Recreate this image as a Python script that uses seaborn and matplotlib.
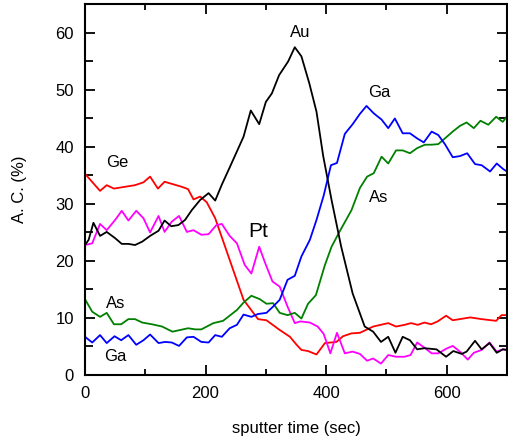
import seaborn as sns
import matplotlib.pyplot as plt
from matplotlib.ticker import MultipleLocator
import pandas as pd

# sputter time (sec) and atomic concentration (%)
ge_t = [0, 25, 36, 48, 83, 97, 108, 121, 132, 161, 171, 180, 191, 202, 216, 263, 287, 301,
        323, 340, 351, 359, 370, 384, 398, 417, 428, 442, 456, 478, 503, 516, 530, 541, 552,
        563, 574, 585, 599, 610, 639, 658, 682, 691, 700]
ge_v = [35.3, 32.3, 33.3, 32.7, 33.3, 33.8, 34.8, 32.7, 33.9, 33.0, 32.6, 30.8, 31.3, 30.3,
        27.5, 13.2, 9.8, 9.6, 7.9, 6.7, 5.3, 4.4, 4.2, 3.6, 5.6, 5.8, 6.8, 7.3, 7.4, 8.5, 9.1,
        8.5, 8.8, 9.1, 8.8, 9.2, 8.9, 9.4, 10.4, 9.6, 10.1, 9.8, 9.5, 10.5, 10.5]

au_t = [0, 6, 14, 25, 36, 50, 61, 72, 83, 95, 108, 122, 132, 143, 155, 166, 177, 191, 205,
        216, 227, 240, 263, 275, 289, 300, 310, 322, 337, 348, 359, 372, 384, 395, 409, 425,
        444, 464, 478, 491, 503, 515, 527, 539, 551, 563, 583, 599, 611, 625, 633, 647, 658,
        671, 683, 693, 700]
au_v = [22.8, 23.7, 26.7, 24.4, 25.1, 24.0, 23.0, 23.0, 22.8, 23.4, 24.4, 25.3, 27.1, 26.1,
        26.3, 27.2, 28.9, 30.7, 31.9, 30.6, 33.4, 36.4, 41.8, 46.4, 44.0, 47.9, 49.4, 52.6,
        55.0, 57.5, 55.9, 51.2, 46.2, 38.5, 30.7, 22.5, 14.3, 8.5, 7.6, 5.8, 6.7, 3.9, 6.7,
        6.1, 4.5, 4.7, 4.5, 3.2, 4.2, 3.7, 4.1, 6.0, 4.5, 5.6, 3.9, 4.5, 4.4]

pt_t = [0, 12, 25, 36, 50, 61, 72, 85, 97, 108, 122, 132, 144, 156, 169, 180, 193, 205, 218,
        227, 240, 252, 265, 276, 289, 299, 311, 323, 336, 348, 357, 373, 386, 396, 407, 418,
        431, 444, 456, 468, 478, 491, 503, 516, 530, 540, 551, 563, 575, 586, 599, 610, 622,
        635, 645, 658, 671, 683, 693, 700]
pt_v = [22.8, 23.1, 26.5, 25.4, 27.2, 28.8, 27.1, 28.8, 27.5, 25.0, 27.9, 25.1, 26.9, 27.9,
        25.1, 25.4, 24.6, 24.7, 26.3, 26.5, 24.4, 23.1, 19.3, 17.8, 22.5, 19.6, 16.4, 15.5,
        12.0, 9.1, 9.4, 9.2, 8.5, 7.2, 3.8, 7.4, 3.8, 4.1, 3.7, 2.5, 2.9, 2.0, 3.5, 3.2, 3.2,
        3.5, 5.7, 4.8, 3.8, 3.8, 4.6, 5.1, 4.1, 2.7, 3.9, 4.4, 5.7, 4.1, 4.5, 4.4]

as_t = [0, 12, 25, 36, 48, 60, 72, 83, 95, 111, 128, 145, 158, 171, 183, 193, 213, 229, 252,
        263, 276, 290, 301, 312, 323, 336, 348, 359, 370, 383, 398, 409, 422, 442, 456, 468,
        479, 492, 503, 516, 527, 539, 551, 564, 575, 586, 597, 610, 622, 633, 645, 656, 669,
        682, 693, 700]
as_v = [13.3, 11.1, 10.2, 10.9, 8.9, 8.9, 9.8, 9.8, 9.2, 8.9, 8.5, 7.6, 7.9, 8.2, 8.0, 8.0,
        9.1, 9.5, 11.4, 12.7, 13.9, 13.3, 12.5, 12.6, 10.9, 10.5, 10.9, 9.9, 12.5, 14.0, 19.3,
        22.5, 25.1, 28.9, 32.8, 34.8, 35.4, 38.3, 37.1, 39.4, 39.4, 38.9, 39.8, 40.4, 40.4,
        40.5, 41.5, 42.7, 43.7, 44.3, 43.3, 44.6, 43.9, 45.3, 44.4, 45.4]

ga_t = [0, 12, 25, 36, 49, 60, 72, 85, 97, 108, 122, 133, 144, 156, 169, 180, 193, 205, 216,
        227, 240, 252, 263, 276, 287, 301, 312, 323, 336, 348, 359, 373, 384, 396, 408, 418,
        431, 444, 456, 467, 479, 492, 503, 514, 527, 539, 551, 562, 575, 586, 597, 610, 622,
        634, 647, 658, 672, 683, 694, 700]
ga_v = [6.7, 5.7, 7.0, 5.6, 6.8, 6.1, 7.0, 5.3, 6.1, 7.1, 5.6, 5.8, 5.7, 5.1, 6.6, 6.7, 5.8,
        5.7, 7.0, 6.7, 8.2, 8.8, 10.6, 10.2, 10.7, 10.9, 12.0, 13.2, 16.7, 17.4, 20.8, 23.7,
        27.2, 31.5, 36.8, 37.2, 42.3, 44.0, 45.8, 47.2, 45.9, 44.8, 43.3, 45.0, 42.4, 42.4,
        41.5, 40.8, 42.7, 42.1, 40.5, 38.2, 38.4, 38.9, 37.0, 36.8, 35.7, 37.1, 36.1, 35.7]

# label text and where it sits (data coords)
labels = ["Au", "Ga", "Ge", "As", "Pt", "As", "Ga"]
label_x = [357, 489, 53, 487, 288, 51, 51]
label_y = [60.0, 49.6, 37.2, 31.2, 25.1, 12.6, 3.3]

sns.set_style("ticks")
plt.rcParams['font.family'] = ['Liberation Sans', 'DejaVu Sans']
plt.rcParams.update({"text.color": "black", "axes.labelcolor": "black",
                     "xtick.color": "black", "ytick.color": "black",
                     "axes.edgecolor": "black"})

fig = plt.figure(figsize=(5.08, 4.46), dpi=100)
ax = fig.add_axes([0.1673, 0.1592, 0.8307, 0.8308])

series = [(ge_t, ge_v, "#ff0000"), (pt_t, pt_v, "#ff00ff"), (as_t, as_v, "#008000"),
          (ga_t, ga_v, "#0000ff"), (au_t, au_v, "#000000")]
for t, v, c in series:
    df = pd.DataFrame({"t": t, "v": v})
    sns.lineplot(data=df, x="t", y="v", color=c, linewidth=1.3, ax=ax)

for txt, x, y in zip(labels, label_x, label_y):
    size = 15 if txt == "Pt" else 12
    ax.text(x, y, txt, fontsize=size, ha="center", va="center")

ax.set_xlim(0, 700)
ax.set_ylim(0, 65)
ax.xaxis.set_major_locator(MultipleLocator(200))
ax.xaxis.set_minor_locator(MultipleLocator(100))
ax.yaxis.set_major_locator(MultipleLocator(10))
ax.yaxis.set_minor_locator(MultipleLocator(5))
ax.tick_params(which="both", direction="in", top=True, right=True, width=1.3,
               labelsize=12, pad=8)
ax.tick_params(which="major", length=7)
ax.tick_params(axis="y", which="minor", length=6)
ax.tick_params(axis="x", which="minor", length=4)
for s in ax.spines.values():
    s.set_linewidth(1.5)

ax.set_xlabel("sputter time (sec)", fontsize=12, labelpad=14)
ax.set_ylabel("A. C. (%)", fontsize=12, labelpad=20)

fig.savefig("out.png", dpi=100)
